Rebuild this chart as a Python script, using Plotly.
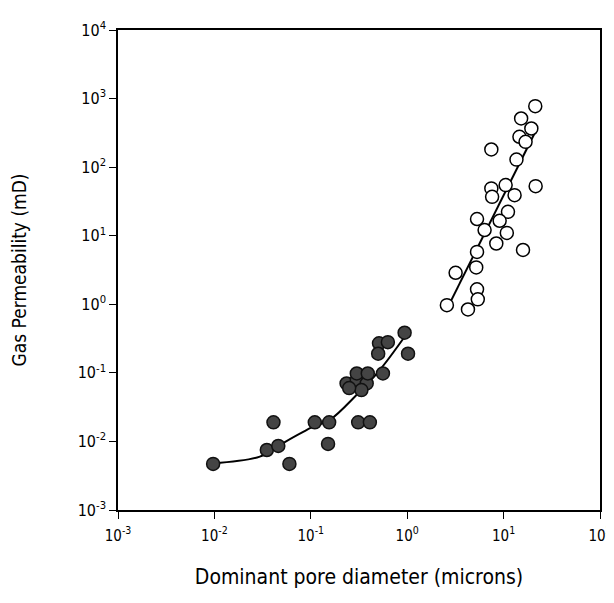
import plotly.graph_objects as go

# filled points (fine-grained samples)
fine_x = [0.0097, 0.035, 0.046, 0.041, 0.06, 0.11, 0.155, 0.151, 0.31, 0.41,
          0.235, 0.30, 0.38, 0.335, 0.30, 0.39, 0.56, 0.51, 0.63, 0.50, 0.94, 1.02, 0.25]
fine_y = [0.0047, 0.0075, 0.0086, 0.019, 0.0047, 0.019, 0.019, 0.0092, 0.019, 0.019,
          0.070, 0.079, 0.070, 0.056, 0.098, 0.098, 0.098, 0.27, 0.28, 0.19, 0.385, 0.19, 0.06]

# open points (coarse samples)
coarse_x = [21.3, 15.2, 19.4, 14.6, 16.9, 7.46, 13.6, 10.5, 7.46, 7.6, 13, 21.5, 11.1,
            5.3, 9.1, 6.35, 10.8, 8.4, 15.9, 5.3, 5.2, 3.18, 5.3, 5.4, 4.27, 2.58]
coarse_y = [775, 513, 366, 277, 234, 181, 129, 54.7, 49, 36.9, 39, 52.8, 22.3,
            17.5, 16.5, 12.1, 11.0, 7.7, 6.2, 5.8, 3.45, 2.88, 1.65, 1.18, 0.84, 0.97]

# trend curves
fine_fit_x = [0.0097, 0.0296, 0.0478, 0.106, 0.157, 0.298, 0.519, 0.94]
fine_fit_y = [0.0048, 0.006, 0.0089, 0.0164, 0.0205, 0.0475, 0.11, 0.336]
coarse_fit_x = [2.87, 20.9]
coarse_fit_y = [1.15, 310]

x_ticks = [1e-3, 1e-2, 1e-1, 1, 10, 100]
x_text = ["10<sup>-3</sup>", "10<sup>-2</sup>", "10<sup>-1</sup>", "10<sup>0</sup>",
          "10<sup>1</sup>", "10<sup>2</sup>"]
y_ticks = [1e-3, 1e-2, 1e-1, 1, 10, 100, 1000, 1e4]
y_text = ["10<sup>-3</sup>", "10<sup>-2</sup>", "10<sup>-1</sup>", "10<sup>0</sup>",
          "10<sup>1</sup>", "10<sup>2</sup>", "10<sup>3</sup>", "10<sup>4</sup>"]

font = "DejaVu Sans Condensed, DejaVu Sans, sans-serif"

fig = go.Figure()
fig.add_trace(go.Scatter(x=fine_fit_x, y=fine_fit_y, mode="lines", line_shape="spline",
                         line=dict(color="black", width=2), showlegend=False))
fig.add_trace(go.Scatter(x=coarse_fit_x, y=coarse_fit_y, mode="lines",
                         line=dict(color="black", width=2), showlegend=False))
fig.add_trace(go.Scatter(x=fine_x, y=fine_y, mode="markers",
                         marker=dict(size=13, color="#444444", line=dict(color="#111111", width=1.5)),
                         showlegend=False))
fig.add_trace(go.Scatter(x=coarse_x, y=coarse_y, mode="markers",
                         marker=dict(size=13, color="white", line=dict(color="black", width=1.5)),
                         showlegend=False))

fig.update_xaxes(type="log", range=[-3, 2], tickvals=x_ticks, ticktext=x_text,
                 showgrid=False, zeroline=False, showline=True, linecolor="black", linewidth=1.5,
                 mirror=True, ticks="outside", ticklen=7, tickcolor="black", automargin=False,
                 ticklabeloverflow="allow",
                 tickfont=dict(family=font, size=15, color="black"), ticklabelstandoff=4,
                 title=dict(text="Dominant pore diameter (microns)",
                            font=dict(family=font, size=21, color="black"),
                            standoff=26))
fig.update_yaxes(type="log", range=[-3, 4], tickvals=y_ticks, ticktext=y_text,
                 showgrid=False, zeroline=False, showline=True, linecolor="black", linewidth=1.5,
                 mirror=True, ticks="outside", ticklen=7, tickcolor="black", automargin=False,
                 tickfont=dict(family=font, size=16, color="black"),
                 title=dict(text="Gas Permeability (mD)",
                            font=dict(family=font, size=19, color="black"),
                            standoff=48))
fig.update_layout(width=606, height=587, plot_bgcolor="white", paper_bgcolor="white",
                  margin=dict(l=110, r=14, t=22, b=85))
fig.write_html("out.html")
